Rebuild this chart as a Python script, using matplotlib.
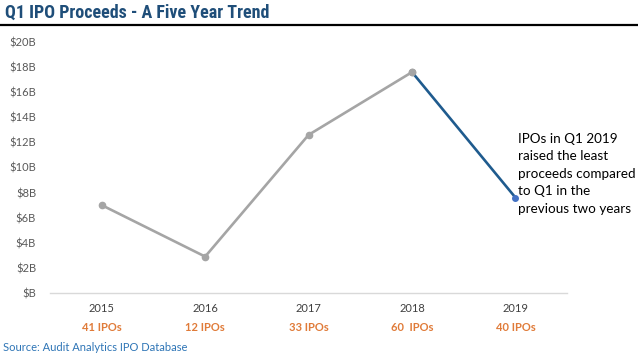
import matplotlib
matplotlib.use('Agg')
import matplotlib.pyplot as plt
from matplotlib.transforms import blended_transform_factory

# Q1 IPO proceeds, $ billions
years = ['2015', '2016', '2017', '2018', '2019']
proceeds = [7.0, 2.9, 12.6, 17.6, 7.6]
ipo_counts = ['41 IPOs', '12 IPOs', '33 IPOs', '60  IPOs', '40 IPOs']
y_ticks = [0, 2, 4, 6, 8, 10, 12, 14, 16, 18, 20]

GREY = '#A5A5A5'
BLUE = '#1F5B8E'
ORANGE = '#E07B39'

plt.rcParams['font.family'] = ['Lato', 'DejaVu Sans']

fig = plt.figure(figsize=(6.38, 3.58), dpi=100, facecolor='white')
ax = fig.add_axes([0.0784, 0.1816, 0.8106, 0.7011])

x = list(range(len(years)))

# grey trend for 2015-2018, highlighted drop to 2019
ax.plot(x[:4], proceeds[:4], color=GREY, linewidth=1.9, marker='o',
        markersize=4.5, solid_capstyle='round')
ax.plot(x[3:], proceeds[3:], color=BLUE, linewidth=1.9, solid_capstyle='round')
ax.plot(x[3], proceeds[3], 'o', color=GREY, markersize=4.5)
ax.plot(x[4], proceeds[4], 'o', color='#4472C4', markersize=4)

ax.set_xlim(-0.5, len(years) - 0.5)
ax.set_ylim(0, 20)
ax.set_yticks(y_ticks)
ax.set_yticklabels(['$B' if v == 0 else f'${v}B' for v in y_ticks])
ax.tick_params(axis='y', length=0, pad=10, labelsize=8, labelcolor='#595959')
ax.set_xticks([])

for side in ['left', 'right', 'top']:
    ax.spines[side].set_visible(False)
ax.spines['bottom'].set_color('#D9D9D9')
ax.spines['bottom'].set_linewidth(1.0)

# year + IPO count labels under the axis
trans = blended_transform_factory(ax.transData, ax.transAxes)
for xi, yr, cnt in zip(x, years, ipo_counts):
    ax.text(xi, -0.06, yr, transform=trans, ha='center', va='center',
            fontsize=8, color='#404040')
    ax.text(xi, -0.139, cnt, transform=trans, ha='center', va='center',
            fontsize=8, color=ORANGE, fontweight='bold')

ax.text(4.02, 12.75,
        'IPOs in Q1 2019\nraised the least\nproceeds compared\nto Q1 in the\nprevious two years',
        ha='left', va='top', fontsize=9.7, color='#000000', linespacing=1.55)

# title with rule underneath
fig.text(0.008, 0.963, 'Q1 IPO Proceeds - A Five Year Trend', ha='left', va='center',
         fontsize=13, fontweight='bold', color='#1F4E79',
         family=['Roboto Condensed', 'DejaVu Sans'])
fig.add_artist(plt.Line2D([0, 1], [0.930, 0.930], color='black', linewidth=1.6,
                          transform=fig.transFigure))

fig.text(0.005, 0.028, 'Source: Audit Analytics IPO Database', ha='left', va='center',
         fontsize=8, color='#2E75B6')

fig.savefig('out.png', dpi=100, facecolor='white')
